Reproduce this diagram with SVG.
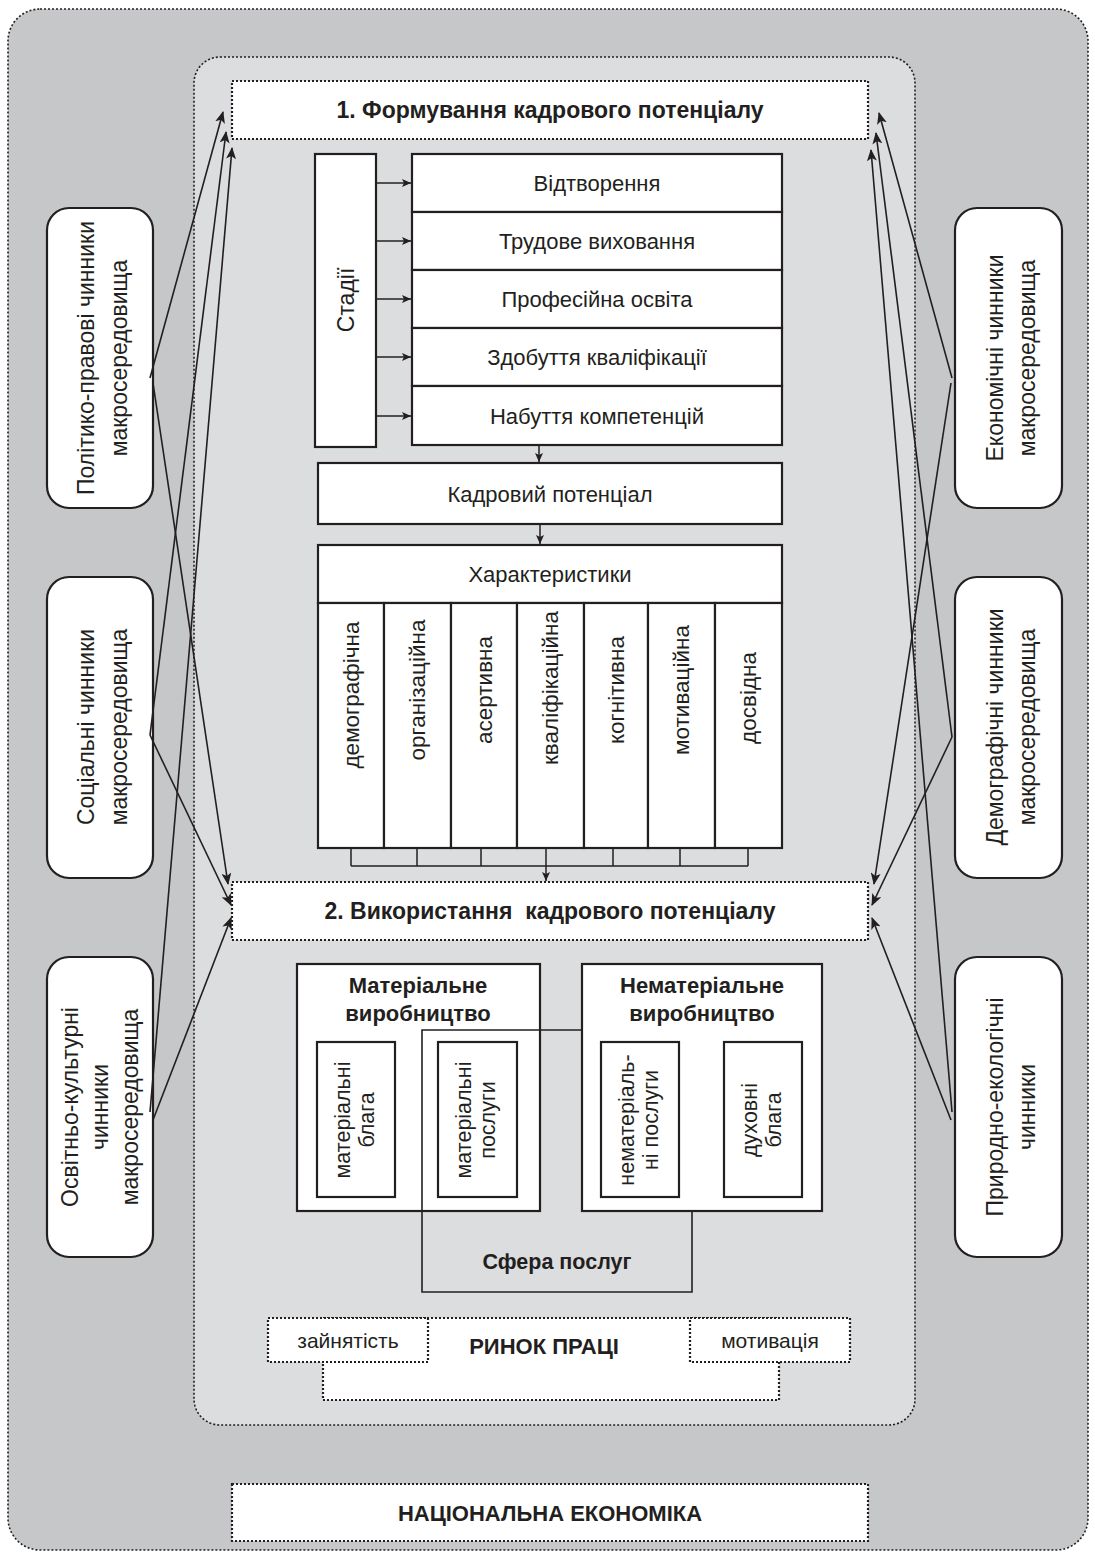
<svg xmlns="http://www.w3.org/2000/svg" width="1095" height="1557" viewBox="0 0 1095 1557">
<defs>
<marker id="ah" markerWidth="12" markerHeight="10" refX="11" refY="5" orient="auto" markerUnits="userSpaceOnUse">
<path d="M0,0 L12,5 L0,10 L3,5 z" fill="#231f20"/>
</marker>
<marker id="sa" markerWidth="9" markerHeight="8" refX="9" refY="4" orient="auto" markerUnits="userSpaceOnUse">
<path d="M0,0 L9,4 L0,8 L2,4 z" fill="#231f20"/>
</marker>
</defs>
<style>
.t{font-family:"Liberation Sans","Open Sans",sans-serif;fill:#231f20;text-anchor:middle;}
.b{font-weight:bold;}
.box{fill:#fff;stroke:#231f20;stroke-width:2.2;}
.dot{fill:#fff;stroke:#231f20;stroke-width:2.2;stroke-dasharray:2 2;}
.fr{stroke:#231f20;stroke-width:1.6;stroke-dasharray:2 2;}
.fac{fill:#fff;stroke:#231f20;stroke-width:2.2;}
.ln{fill:none;stroke:#231f20;stroke-width:1.6;}
.cn{fill:none;stroke:#231f20;stroke-width:1.5;}
</style>
<g id="outer-frame"><rect x="8" y="9" width="1080" height="1541" rx="32" fill="#c6c7c9" class="fr"/></g>
<g id="inner-frame"><rect x="194" y="57" width="721" height="1368" rx="26" fill="#dcdddf" class="fr"/></g>

<g id="formation"><rect x="232" y="81" width="636" height="58" class="dot"/><text class="t b" x="550" y="118" font-size="23">1. Формування кадрового потенціалу</text></g>

<g id="stages"><rect x="315" y="154" width="61" height="293" class="box"/><text class="t" font-size="23" transform="translate(354,300) rotate(-90)">Стадії</text></g>
<g id="stage-1"><rect x="412" y="154" width="370" height="58" class="box"/><text class="t" x="597" y="191" font-size="22">Відтворення</text></g>
<g id="stage-2"><rect x="412" y="212" width="370" height="58" class="box"/><text class="t" x="597" y="249" font-size="22">Трудове виховання</text></g>
<g id="stage-3"><rect x="412" y="270" width="370" height="58" class="box"/><text class="t" x="597" y="307" font-size="22">Професійна освіта</text></g>
<g id="stage-4"><rect x="412" y="328" width="370" height="58" class="box"/><text class="t" x="597" y="365" font-size="22">Здобуття кваліфікації</text></g>
<g id="stage-5"><rect x="412" y="386" width="370" height="59" class="box"/><text class="t" x="597" y="424" font-size="22">Набуття компетенцій</text></g>

<g id="potential"><rect x="318" y="463" width="464" height="61" class="box"/><text class="t" x="550" y="502" font-size="22">Кадровий потенціал</text></g>
<g id="characteristics"><rect x="318" y="545" width="464" height="58" class="box"/><text class="t" x="550" y="582" font-size="22">Характеристики</text></g>
<g id="char-1"><rect x="318" y="603" width="66" height="245" class="box"/><text class="t" font-size="22.5" transform="translate(359,695) rotate(-90)">демографічна</text></g>
<g id="char-2"><rect x="384" y="603" width="67" height="245" class="box"/><text class="t" font-size="22.5" transform="translate(425,690) rotate(-90)">організаційна</text></g>
<g id="char-3"><rect x="451" y="603" width="66" height="245" class="box"/><text class="t" font-size="22.5" transform="translate(492,690) rotate(-90)">асертивна</text></g>
<g id="char-4"><rect x="517" y="603" width="67" height="245" class="box"/><text class="t" font-size="22.5" transform="translate(558,688) rotate(-90)">кваліфікаційна</text></g>
<g id="char-5"><rect x="584" y="603" width="64" height="245" class="box"/><text class="t" font-size="22.5" transform="translate(624,690) rotate(-90)">когнітивна</text></g>
<g id="char-6"><rect x="648" y="603" width="67" height="245" class="box"/><text class="t" font-size="22.5" transform="translate(689,690) rotate(-90)">мотиваційна</text></g>
<g id="char-7"><rect x="715" y="603" width="67" height="245" class="box"/><text class="t" font-size="22.5" transform="translate(756,698) rotate(-90)">досвідна</text></g>

<g id="usage"><rect x="232" y="882" width="636" height="58" class="dot"/><text class="t b" x="550" y="919" font-size="23">2. Використання&#160; кадрового потенціалу</text></g>

<g id="material"><rect x="297" y="964" width="243" height="247" class="box"/><text class="t b" x="418" y="993" font-size="22">Матеріальне</text><text class="t b" x="418" y="1021" font-size="22">виробництво</text></g>
<g id="nonmaterial"><rect x="582" y="964" width="240" height="247" class="box"/><text class="t b" x="702" y="993" font-size="22">Нематеріальне</text><text class="t b" x="702" y="1021" font-size="22">виробництво</text></g>
<g id="services-sphere"><path d="M582,1030 H422 V1292 H692 V1211" class="ln" stroke-width="2.2"/><text class="t b" x="557" y="1269" font-size="21.5">Сфера послуг</text></g>
<g id="mat-goods"><rect x="317" y="1042" width="78" height="155" class="box"/><text class="t" font-size="21.5" transform="translate(350,1120) rotate(-90)">матеріальні</text><text class="t" font-size="21.5" transform="translate(374,1120) rotate(-90)">блага</text></g>
<g id="mat-services"><rect x="438" y="1042" width="79" height="155" class="box"/><text class="t" font-size="21.5" transform="translate(471,1120) rotate(-90)">матеріальні</text><text class="t" font-size="21.5" transform="translate(495,1120) rotate(-90)">послуги</text></g>
<g id="nonmat-services"><rect x="601" y="1042" width="78" height="155" class="box"/><text class="t" font-size="21.5" transform="translate(634,1120) rotate(-90)">нематеріаль-</text><text class="t" font-size="21.5" transform="translate(658,1120) rotate(-90)">ні послуги</text></g>
<g id="spiritual-goods"><rect x="724" y="1042" width="78" height="155" class="box"/><text class="t" font-size="21.5" transform="translate(757,1120) rotate(-90)">духовні</text><text class="t" font-size="21.5" transform="translate(781,1120) rotate(-90)">блага</text></g>

<g id="labour-market"><rect x="323" y="1318" width="456" height="82" class="dot"/><text class="t b" x="544" y="1354" font-size="22">РИНОК ПРАЦІ</text></g>
<g id="employment"><rect x="268" y="1318" width="160" height="44" class="dot"/><text class="t" x="348" y="1348" font-size="21">зайнятість</text></g>
<g id="motivation"><rect x="690" y="1318" width="160" height="44" class="dot"/><text class="t" x="770" y="1348" font-size="21">мотивація</text></g>

<g id="national-economy"><rect x="232" y="1484" width="636" height="57" class="dot"/><text class="t b" x="550" y="1521" font-size="22">НАЦІОНАЛЬНА ЕКОНОМІКА</text></g>

<g id="f-political"><rect x="47" y="208" width="106" height="300" rx="22" class="fac"/><text class="t" font-size="23" transform="translate(94,358) rotate(-90)">Політико-правові чинники</text><text class="t" font-size="23" transform="translate(127,358) rotate(-90)">макросередовища</text></g>
<g id="f-social"><rect x="47" y="577" width="106" height="301" rx="22" class="fac"/><text class="t" font-size="23" transform="translate(94,727) rotate(-90)">Соціальні чинники</text><text class="t" font-size="23" transform="translate(127,727) rotate(-90)">макросередовища</text></g>
<g id="f-cultural"><rect x="47" y="957" width="106" height="300" rx="22" class="fac"/><text class="t" font-size="23" transform="translate(78,1107) rotate(-90)">Освітньо-культурні</text><text class="t" font-size="23" transform="translate(108,1107) rotate(-90)">чинники</text><text class="t" font-size="23" transform="translate(138,1107) rotate(-90)">макросередовища</text></g>
<g id="f-economic"><rect x="955" y="208" width="107" height="300" rx="22" class="fac"/><text class="t" font-size="23" transform="translate(1003,358) rotate(-90)">Економічні чинники</text><text class="t" font-size="23" transform="translate(1035,358) rotate(-90)">макросередовища</text></g>
<g id="f-demographic"><rect x="955" y="577" width="107" height="301" rx="22" class="fac"/><text class="t" font-size="23" transform="translate(1003,727) rotate(-90)">Демографічні чинники</text><text class="t" font-size="23" transform="translate(1035,727) rotate(-90)">макросередовища</text></g>
<g id="f-natural"><rect x="955" y="957" width="107" height="300" rx="22" class="fac"/><text class="t" font-size="23" transform="translate(1003,1107) rotate(-90)">Природно-екологічні</text><text class="t" font-size="23" transform="translate(1035,1107) rotate(-90)">чинники</text></g>

<g id="connectors">
<line x1="376" y1="183" x2="411" y2="183" class="cn" marker-end="url(#sa)"/>
<line x1="376" y1="241" x2="411" y2="241" class="cn" marker-end="url(#sa)"/>
<line x1="376" y1="299" x2="411" y2="299" class="cn" marker-end="url(#sa)"/>
<line x1="376" y1="357" x2="411" y2="357" class="cn" marker-end="url(#sa)"/>
<line x1="376" y1="416" x2="411" y2="416" class="cn" marker-end="url(#sa)"/>
<line x1="539" y1="446" x2="539" y2="462" class="cn" marker-end="url(#sa)"/>
<line x1="540" y1="525" x2="540" y2="544" class="cn" marker-end="url(#sa)"/>
<path d="M351,849 V866 M417,849 V866 M481,849 V866 M613,849 V866 M680,849 V866 M748,849 V866 M351,866 H748" class="cn"/>
<line x1="546" y1="849" x2="546" y2="881" class="cn" marker-end="url(#sa)"/>
<line x1="150" y1="378" x2="223" y2="112" class="ln" marker-end="url(#ah)"/>
<line x1="153" y1="383" x2="228" y2="884" class="ln" marker-end="url(#ah)"/>
<line x1="150" y1="735" x2="226" y2="132" class="ln" marker-end="url(#ah)"/>
<line x1="150" y1="735" x2="231" y2="905" class="ln" marker-end="url(#ah)"/>
<line x1="150" y1="1112" x2="232" y2="148" class="ln" marker-end="url(#ah)"/>
<line x1="153" y1="1120" x2="231" y2="918" class="ln" marker-end="url(#ah)"/>
<line x1="952" y1="378" x2="879" y2="113" class="ln" marker-end="url(#ah)"/>
<line x1="951" y1="383" x2="874" y2="884" class="ln" marker-end="url(#ah)"/>
<line x1="952" y1="737" x2="876" y2="133" class="ln" marker-end="url(#ah)"/>
<line x1="952" y1="737" x2="872" y2="905" class="ln" marker-end="url(#ah)"/>
<line x1="952" y1="1112" x2="871" y2="150" class="ln" marker-end="url(#ah)"/>
<line x1="951" y1="1120" x2="872" y2="918" class="ln" marker-end="url(#ah)"/>
</g>
</svg>
